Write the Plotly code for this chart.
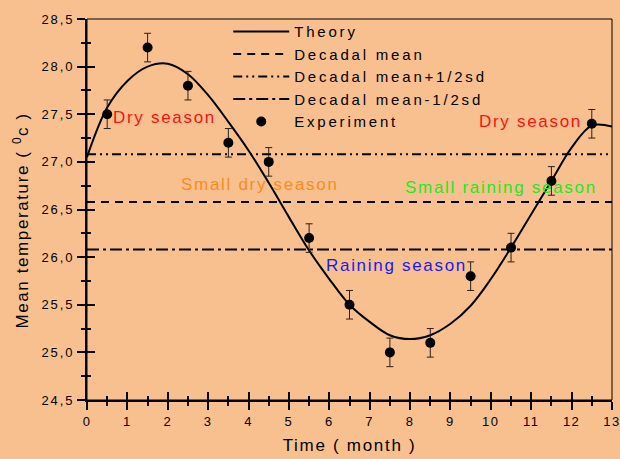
import plotly.graph_objects as go

# ---- data ----
exp_month = [0.5, 1.5, 2.5, 3.5, 4.5, 5.5, 6.5, 7.5, 8.5, 9.5, 10.5, 11.5, 12.5]
exp_temp = [27.5, 28.2, 27.8, 27.2, 27.0, 26.2, 25.5, 25.0, 25.1, 25.8, 26.1, 26.8, 27.4]
exp_err = [0.15] * 13

theory_month = [0, 0.5, 1, 1.5, 2, 2.5, 3, 3.5, 4, 4.5, 5, 5.5, 6, 6.5, 7, 7.5, 8,
                8.5, 9, 9.5, 10, 10.5, 11, 11.5, 12, 12.5, 13]
theory_temp = [27.05, 27.57, 27.85, 28.00, 28.03, 27.92, 27.70, 27.42, 27.12, 26.78,
               26.42, 26.07, 25.77, 25.50, 25.32, 25.18, 25.14, 25.18, 25.30, 25.49,
               25.77, 26.10, 26.45, 26.80, 27.15, 27.38, 27.37]

x_range = [0, 13]
decadal_mean = 26.58
decadal_plus = 27.08
decadal_minus = 26.08

x_tick_vals = list(range(0, 14))
x_tick_labels = [str(v) for v in x_tick_vals]
y_tick_vals = [24.5, 25.0, 25.5, 26.0, 26.5, 27.0, 27.5, 28.0, 28.5]
y_tick_labels = ["24,5", "25,0", "25,5", "26,0", "26,5", "27,0", "27,5", "28,0", "28,5"]

season_labels = ["Dry season", "Dry season", "Small dry season", "Small raining season", "Raining season"]
season_x = [0.6, 9.65, 2.27, 7.83, 5.87]
season_y = [27.47, 27.42, 26.76, 26.73, 25.91]
season_colors = ["#FF1010", "#FF1010", "#FF8A1A", "#22E822", "#1A1AF0"]

FONT = "Liberation Sans, Arial, sans-serif"
BG = "#F9C08F"


def sp(text, px):
    return '<span style="letter-spacing:%spx">%s</span>' % (px, text)


LS = 2.8
fig = go.Figure()
fig.add_trace(go.Scatter(x=theory_month, y=theory_temp, mode="lines", name=sp("Theory", LS),
                         line=dict(color="black", width=2, shape="spline", smoothing=1.0)))
fig.add_trace(go.Scatter(x=x_range, y=[decadal_mean] * 2, mode="lines", name=sp("Decadal mean", LS),
                         line=dict(color="black", width=2, dash="8px,6px")))
fig.add_trace(go.Scatter(x=x_range, y=[decadal_plus] * 2, mode="lines",
                         name=sp("Decadal mean+1/2sd", LS),
                         line=dict(color="black", width=2, dash="9px,4px,2px,4px,2px,4px")))
fig.add_trace(go.Scatter(x=x_range, y=[decadal_minus] * 2, mode="lines",
                         name=sp("Decadal mean-1/2sd", LS),
                         line=dict(color="black", width=2, dash="12px,4px,3px,4px")))
fig.add_trace(go.Scatter(x=exp_month, y=exp_temp, mode="markers", name=sp("Experiment", LS),
                         marker=dict(color="black", size=10),
                         error_y=dict(type="data", array=exp_err, visible=True,
                                      color="#2a2018", thickness=1, width=3.5)))

# overlay axes for inward tick halves
fig.add_trace(go.Scatter(x=[None], y=[None], xaxis="x2", yaxis="y2", showlegend=False,
                         hoverinfo="skip"))

for t, xx, yy, c in zip(season_labels, season_x, season_y, season_colors):
    fig.add_annotation(x=xx, y=yy, xref="x", yref="y", text=sp(t, 1.7), showarrow=False,
                       xanchor="left", yanchor="middle", font=dict(family=FONT, size=17, color=c))

fig.add_annotation(x=-0.125, y=0.472, xref="paper", yref="paper", xanchor="center", yanchor="middle",
                   text=sp("Mean temperature ( <sup>0</sup>c )", 1.6), textangle=-90, showarrow=False,
                   font=dict(family=FONT, size=17, color="black"))

fig.add_shape(type="rect", xref="paper", yref="paper", x0=0, x1=1, y0=0, y1=1,
              line=dict(color="black", width=1), layer="above")

axis_common = dict(showgrid=False, zeroline=False)
fig.update_layout(
    width=620, height=459,
    paper_bgcolor=BG, plot_bgcolor=BG,
    margin=dict(l=87, r=8, t=19, b=59, autoexpand=False),
    font=dict(family=FONT, size=13, color="black"),
    showlegend=True,
    legend=dict(x=0.269, y=1.01, xanchor="left", yanchor="top", bgcolor="rgba(0,0,0,0)",
                borderwidth=0, font=dict(family=FONT, size=15), itemwidth=56,
                tracegroupgap=0),
    xaxis=dict(range=[0, 13], tickvals=x_tick_vals, ticktext=[sp(t, 1.5) for t in x_tick_labels],
               ticks="outside", ticklen=8, tickwidth=1.5, ticklabeloverflow="allow",
               tickcolor="black", showline=True, linecolor="black", linewidth=2,
               minor=dict(dtick=0.5, ticks="outside", ticklen=4, tickwidth=1.5, tickcolor="black"),
               title=dict(text=sp("Time ( month )", 1.7), font=dict(family=FONT, size=17), standoff=12),
               tickfont=dict(family=FONT, size=13), **axis_common),
    yaxis=dict(range=[24.5, 28.5], tickvals=y_tick_vals, ticktext=[sp(t, 1.9) for t in y_tick_labels],
               ticks="outside", ticklen=8, tickwidth=1.5, tickcolor="black", ticklabeloverflow="allow",
               showline=True, linecolor="black", linewidth=2,
               minor=dict(dtick=0.25, tick0=24.5, ticks="outside", ticklen=4, tickwidth=1.5,
                          tickcolor="black"),
               tickfont=dict(family=FONT, size=13), **axis_common),
    xaxis2=dict(range=[0, 13], overlaying="x", anchor="y", side="bottom", dtick=1, tick0=0,
                ticks="inside", ticklen=8, tickwidth=1.5, tickcolor="black", showticklabels=False,
                minor=dict(dtick=0.5, ticks="inside", ticklen=4, tickwidth=1.5, tickcolor="black"),
                showline=False, **axis_common),
    yaxis2=dict(range=[24.5, 28.5], overlaying="y", anchor="x", side="left", dtick=0.5, tick0=24.5,
                ticks="inside", ticklen=8, tickwidth=1.5, tickcolor="black", showticklabels=False,
                minor=dict(dtick=0.25, ticks="inside", ticklen=4, tickwidth=1.5, tickcolor="black"),
                showline=False, **axis_common),
)

fig.write_html("out.html", config={"displayModeBar": False},
               post_script="document.body.style.margin='0';document.body.style.overflow='hidden';"
                           "document.body.style.background='%s';" % BG)
